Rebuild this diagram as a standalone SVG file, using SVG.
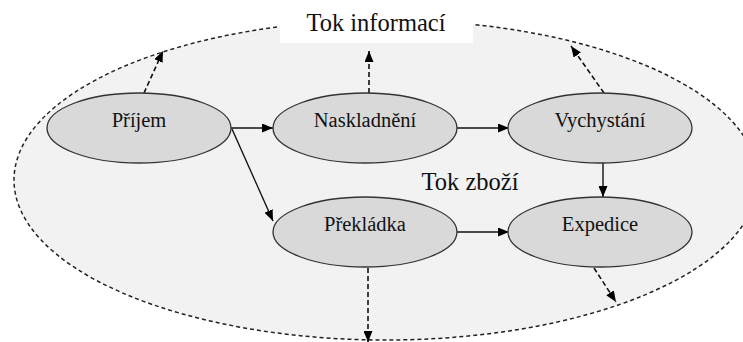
<svg xmlns="http://www.w3.org/2000/svg" width="743" height="342" viewBox="0 0 743 342">
<style>
.node ellipse{fill:#d9d9d9;stroke:#333;stroke-width:1.3}
.lbl{font-family:"Liberation Serif","Times New Roman",serif;font-size:20.5px;fill:#111;text-anchor:middle}
.big{font-family:"Liberation Serif","Times New Roman",serif;font-size:24.5px;fill:#111;text-anchor:middle}
.solid{stroke:#111;stroke-width:1.4;fill:none}
.dash{stroke:#111;stroke-width:1.6;fill:none;stroke-dasharray:5 3}
</style>
<defs>
<marker id="ah" viewBox="0 0 11 9" refX="11" refY="4.5" markerWidth="11" markerHeight="9" markerUnits="userSpaceOnUse" orient="auto">
<path d="M0,0 L11,4.5 L0,9 Z" fill="#000"/>
</marker>
</defs>
<rect x="0" y="0" width="743" height="342" fill="#fff"/>
<g id="boundary">
<ellipse cx="386" cy="180" rx="372" ry="160" fill="#f2f2f2" stroke="#222" stroke-width="1.5" stroke-dasharray="4 3"/>
</g>
<g id="title">
<rect x="280" y="0" width="193" height="43" fill="#fff"/>
<text class="big" x="376" y="31">Tok informací</text>
</g>
<g id="goods-label">
<text class="big" x="470" y="190">Tok zboží</text>
</g>
<g id="connectors">
<line class="solid" x1="231" y1="128" x2="273" y2="128" marker-end="url(#ah)"/>
<line class="solid" x1="232" y1="129" x2="273" y2="221" marker-end="url(#ah)"/>
<line class="solid" x1="456" y1="128" x2="509" y2="128" marker-end="url(#ah)"/>
<line class="solid" x1="456" y1="232" x2="509" y2="232" marker-end="url(#ah)"/>
<line class="solid" x1="603" y1="163" x2="603" y2="197" marker-end="url(#ah)"/>
<line class="dash" x1="144" y1="93" x2="163" y2="51" marker-end="url(#ah)"/>
<line class="dash" x1="369" y1="93" x2="369" y2="51" marker-end="url(#ah)"/>
<line class="dash" x1="604" y1="93" x2="571" y2="46" marker-end="url(#ah)"/>
<line class="dash" x1="368" y1="268" x2="368" y2="342" marker-end="url(#ah)"/>
<line class="dash" x1="594" y1="268" x2="616" y2="302" marker-end="url(#ah)"/>
</g>
<g id="prijem" class="node">
<ellipse cx="139" cy="128" rx="92" ry="35"/>
<text class="lbl" x="139" y="127">Příjem</text>
</g>
<g id="naskladneni" class="node">
<ellipse cx="365" cy="128" rx="92" ry="35"/>
<text class="lbl" x="365" y="127">Naskladnění</text>
</g>
<g id="vychystani" class="node">
<ellipse cx="600" cy="128" rx="92" ry="35"/>
<text class="lbl" x="600" y="127">Vychystání</text>
</g>
<g id="prekladka" class="node">
<ellipse cx="365" cy="232" rx="92" ry="35"/>
<text class="lbl" x="365" y="231">Překládka</text>
</g>
<g id="expedice" class="node">
<ellipse cx="600" cy="232" rx="92" ry="35"/>
<text class="lbl" x="600" y="231">Expedice</text>
</g>
</svg>
